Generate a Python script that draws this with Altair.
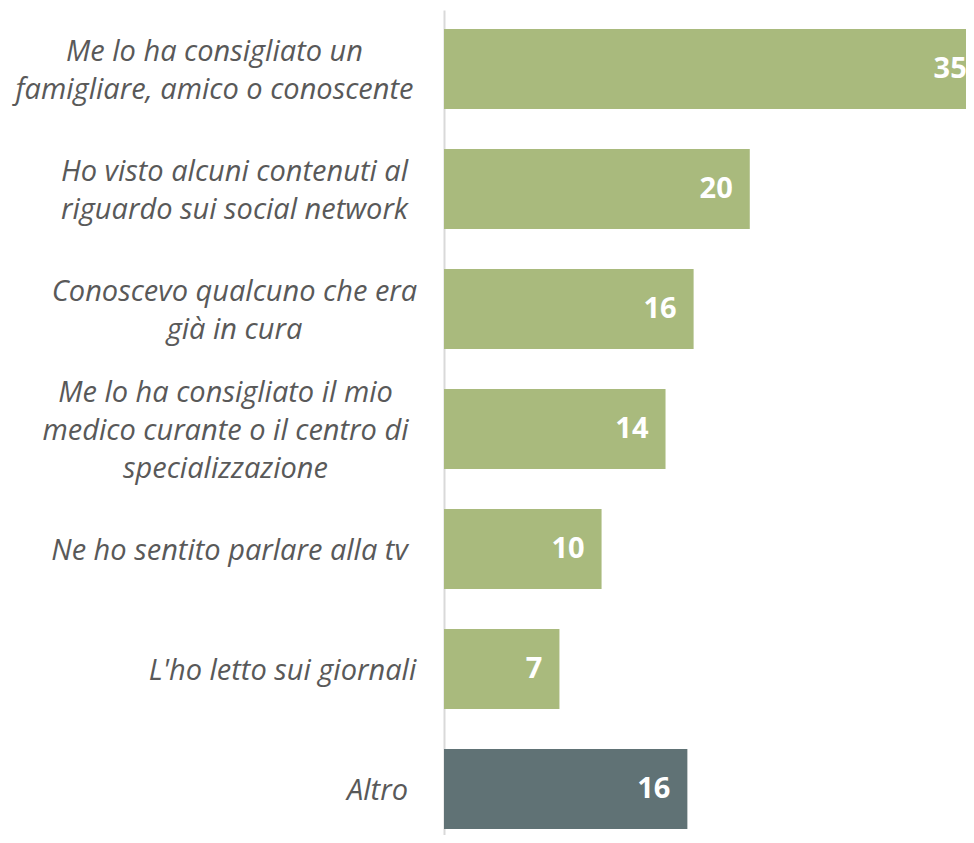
import altair as alt
import pandas as pd

# ---- data ----
categories = [
    "Me lo ha consigliato un|famigliare, amico o conoscente",
    "Ho visto alcuni contenuti al|riguardo sui social network",
    "Conoscevo qualcuno che era|già in cura",
    "Me lo ha consigliato il mio|medico curante o il centro di|specializzazione",
    "Ne ho sentito parlare alla tv",
    "L'ho letto sui giornali",
    "Altro",
]
values = [34.6, 19.6, 16.0, 14.2, 10.1, 7.4, 15.6]

# ---- style ----
GREEN = "#A9BA7D"
SLATE = "#607275"
LABEL_COLOR = "#595959"
LINE_H = 38
# distance from axis to the centre of each (centre-aligned) label block
label_pad = [230, 210, 210, 219, 215, 162, 67]

df = pd.DataFrame({"cat": categories, "value": values})

pad_expr = " : ".join(
    f'datum.value === "{c}" ? {p}' for c, p in zip(categories, label_pad)
) + " : 200"
offset_expr = f"2 - (length(split(datum.value, '|')) - 1) * {LINE_H / 2}"

y_enc = alt.Y(
    "cat:N",
    sort=None,
    scale=alt.Scale(paddingInner=1 / 3, paddingOuter=0.104, align=0.76),
    axis=alt.Axis(
        title=None,
        ticks=False,
        domain=True,
        domainColor="#D9D9D9",
        domainWidth=2,
        labelExpr="split(datum.value, '|')",
        labelAlign="center",
        labelBaseline="middle",
        labelFont="Open Sans",
        labelFontStyle="italic",
        labelFontSize=29,
        labelLineHeight=LINE_H,
        labelColor=LABEL_COLOR,
        labelLimit=0,
        labelPadding=alt.ExprRef(expr=pad_expr),
        labelOffset=alt.ExprRef(expr=offset_expr),
    ),
)

x_enc = alt.X(
    "value:Q",
    scale=alt.Scale(domain=[0, 33.46], nice=False, zero=True),
    axis=None,
)

bars = alt.Chart(df).mark_bar(clip=True).encode(
    y=y_enc,
    x=x_enc,
    color=alt.condition(alt.datum.cat == "Altro", alt.value(SLATE), alt.value(GREEN)),
)

texts = alt.Chart(df).mark_text(
    align="right",
    baseline="middle",
    dx=-17,
    dy=0,
    font="Open Sans",
    fontWeight="bold",
    fontSize=29,
    color="white",
).encode(
    y=alt.Y("cat:N", sort=None),
    x=x_enc,
    text=alt.Text("value:Q", format=".0f"),
)

chart = (
    alt.layer(bars, texts)
    .properties(
        width=522,
        height=825,
        autosize=alt.AutoSizeParams(type="none"),
        padding={"left": 436, "top": 2, "right": 0, "bottom": 0},
        background="white",
    )
    .configure_view(stroke=None)
)

chart.save("out.html", embed_options={"renderer": "svg", "actions": False})
